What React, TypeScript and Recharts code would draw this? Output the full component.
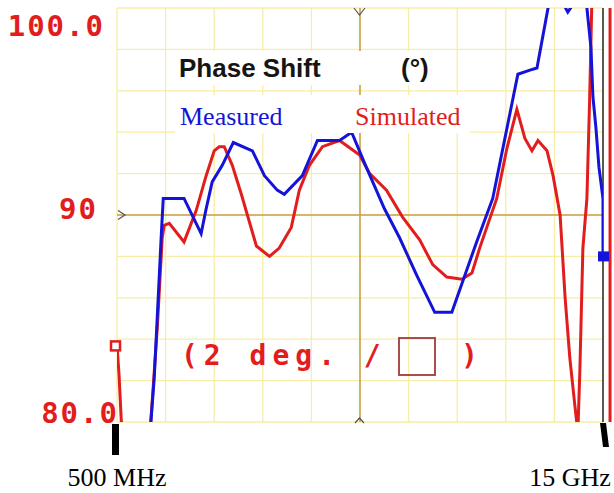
import React from "react";
import { LineChart, Line, XAxis, YAxis, CartesianGrid, ReferenceLine, ReferenceDot } from "recharts";

// frequency in GHz, phase in degrees
const measuredFreq = [
  1.45, 1.52, 1.61, 1.76, 1.82, 1.88, 2.5, 3.01, 3.16, 3.34, 3.64, 3.97, 4.54, 4.9, 5.28, 5.49, 6.03, 6.48, 7.14,
  7.5, 7.94, 8.48, 8.93, 9.44, 9.98, 10.49, 11.23, 11.71, 12.46, 12.82, 13.03, 13.36, 13.5, 13.75, 13.95, 14.2,
  14.35, 14.52, 14.64, 14.7, 14.79, 14.88, 15.0, 15.0,
];
const measuredPhase = [
  78.5, 80.2, 82.1, 87.0, 89.0, 90.8, 90.8, 89.1, 90.3, 91.6, 92.4, 93.5, 93.1, 91.9, 91.2, 91.0, 91.9, 93.6, 93.6,
  94.0, 92.3, 90.3, 88.9, 87.1, 85.3, 85.3, 88.7, 90.8, 96.8, 97.0, 97.1, 100.0, 101.5, 100.4, 99.8, 100.4,
  101.5, 100.0, 98.1, 95.7, 94.2, 92.3, 90.8, 88.0,
];

const simulatedFreq = [
  0.5, 0.56, 0.63, 0.72, 1.1, 1.48, 1.55, 1.7, 1.85, 1.91, 2.06, 2.5, 2.86, 3.16, 3.4, 3.55, 3.7, 3.94, 4.21, 4.39,
  4.66, 5.05, 5.34, 5.7, 5.94, 6.24, 6.63, 7.14, 7.74, 8.04, 8.54, 9.02, 9.53, 9.92, 10.34, 10.79, 11.09, 11.32,
  11.83, 12.13, 12.43, 12.67, 12.88, 13.06, 13.33, 13.51, 13.72, 13.87, 14.01, 14.16, 14.25, 14.31, 14.4, 14.52,
  14.6, 14.67, 14.75,
];
const simulatedPhase = [
  83.7, 82.3, 80.0, 78.8, 78.5, 79.4, 81.0, 84.5, 88.9, 89.5, 89.6, 88.7, 90.2, 91.9, 93.1, 93.3, 93.3, 92.4, 91.0,
  90.0, 88.5, 88.0, 88.4, 89.4, 91.2, 92.4, 93.3, 93.6, 92.9, 92.0, 91.2, 89.9, 88.8, 87.6, 87.0, 86.9, 87.2, 88.4,
  90.8, 93.2, 95.1, 93.7, 93.1, 93.6, 93.1, 91.9, 90.0, 86.0, 83.1, 80.8, 79.5, 82.5, 88.4, 90.8, 95.5, 100.5,
  102.0,
];

const freqGrid = [0.5, 1.95, 3.4, 4.85, 6.3, 7.75, 9.2, 10.65, 12.1, 13.55, 15];
const phaseGrid = [80, 82, 84, 86, 88, 90, 92, 94, 96, 98, 100];
const phaseLabels: Record<number, string> = { 100: "100.0", 90: "90", 80: "80.0" };
const freqLabels: Record<number, string> = { 0.5: "500 MHz", 15: "15 GHz" };
const centerFreq = 7.75;
const refPhase = 90;
const edgeMarkerFreq = 15.21;

const measured = measuredFreq.map((f, i) => ({ f, v: measuredPhase[i] }));
const simulated = simulatedFreq.map((f, i) => ({ f, v: simulatedPhase[i] }));
const simStart = simulated[0];
const measEnd = measured[measured.length - 1];

const RED = "#e21d1d";
const BLUE = "#1414d8";
const GRID = "#f8eda6";
const GOLD = "#c9a24c";
const MONO = "'DejaVu Sans Mono', monospace";
const SERIF = "'Liberation Serif', 'Times New Roman', serif";

const labelPos: Record<number, { x: number; dy: number }> = {
  100: { x: 105, dy: 18 },
  90: { x: 98, dy: -6 },
  80: { x: 119, dy: -9 },
};

const PhaseTick = (props: any) => {
  const { y, payload } = props;
  const txt = phaseLabels[payload.value];
  if (!txt) return <g />;
  const p = labelPos[payload.value];
  return (
    <g>
      <text x={p.x} y={y + p.dy} textAnchor="end" dominantBaseline="central" fontFamily={MONO} fontWeight="bold"
        fontSize={29} letterSpacing={2} fill={RED}>
        {txt}
      </text>
      {payload.value === refPhase && (
        <path d={`M118,${y - 4.5} L125,${y} L118,${y + 4.5}`} fill="none" stroke="#555" strokeWidth={1.2} />
      )}
    </g>
  );
};

const FreqTick = (props: any) => {
  const { x, payload } = props;
  const txt = freqLabels[payload.value];
  if (!txt) return <g />;
  const isEnd = payload.value === 15;
  return (
    <g>
      {isEnd ? (
        <polygon points={`${x - 3},423 ${x + 3},423 ${x + 6},447 ${x},447`} fill="#000" />
      ) : (
        <rect x={x - 5} y={424} width={7} height={31} fill="#000" />
      )}
      <text x={isEnd ? x - 33 : x} y={486} textAnchor="middle" fontFamily={SERIF} fontSize={26} fill="#000">
        {txt}
      </text>
    </g>
  );
};

export default function App() {
  return (
    <div style={{ position: "absolute", left: 0, top: 0, width: 614, height: 493, background: "#fff" }}>
      <LineChart width={614} height={493} data={measured} margin={{ top: 8, right: 11, bottom: 0, left: 0 }}>
        <CartesianGrid stroke={GRID} strokeWidth={1.3} />
        <XAxis dataKey="f" type="number" domain={[0.5, 15]} ticks={freqGrid} interval={0} height={71}
          allowDataOverflow axisLine={false} tickLine={false} tick={<FreqTick />} />
        <YAxis type="number" domain={[80, 100]} ticks={phaseGrid} interval={0} width={117} allowDataOverflow
          axisLine={false} tickLine={false} tick={<PhaseTick />} />
        <ReferenceLine x={centerFreq} stroke={GOLD} strokeWidth={1.6} />
        <ReferenceLine y={refPhase} stroke={GOLD} strokeWidth={1.6} />
        <ReferenceLine x={15} stroke="#333" strokeWidth={1.6} />
        <ReferenceLine x={edgeMarkerFreq} stroke={RED} strokeWidth={3} ifOverflow="visible" />
        <Line data={simulated} dataKey="v" type="linear" stroke={RED} strokeWidth={3} dot={false}
          activeDot={false} isAnimationActive={false} />
        <Line data={measured} dataKey="v" type="linear" stroke={BLUE} strokeWidth={3} dot={false}
          activeDot={false} isAnimationActive={false} />
        <ReferenceDot x={simStart.f} y={simStart.v} ifOverflow="visible"
          shape={(p: any) => (
            <rect x={p.cx - 6} y={p.cy - 4} width={9} height={9} fill="#fff" stroke={RED} strokeWidth={2.5} />
          )} />
        <ReferenceDot x={measEnd.f} y={measEnd.v} ifOverflow="visible"
          shape={(p: any) => <rect x={p.cx - 5} y={p.cy - 5} width={11} height={10} fill={BLUE} />} />
      </LineChart>
      <svg width={614} height={493} style={{ position: "absolute", left: 0, top: 0, pointerEvents: "none" }}>
        <rect x={175} y={51} width={265} height={34} fill="#fff" />
        <rect x={175} y={95} width={295} height={38} fill="#fff" />
        <text x={179} y={77} fontFamily="'Liberation Sans', Arial, sans-serif" fontWeight="bold" fontSize={26}
          fill="#151515">
          Phase Shift
        </text>
        <text x={401} y={77} fontFamily="'Liberation Sans', Arial, sans-serif" fontWeight="bold" fontSize={26}
          fill="#151515">
          (°)
        </text>
        <text x={180} y={125} fontFamily={SERIF} fontSize={26} fill={BLUE}>
          Measured
        </text>
        <text x={355} y={125} fontFamily={SERIF} fontSize={26} fill={RED}>
          Simulated
        </text>
        <path d="M354,8 L359.5,15 L365,8" fill="none" stroke="#555" strokeWidth={1.2} />
        <path d="M355,423 L359.5,418 L364,423" fill="none" stroke="#555" strokeWidth={1.2} />
        <text x={181} y={365} fontFamily={MONO} fontWeight="bold" fontSize={28} letterSpacing={6} fill={RED}>
          (2 deg. /
        </text>
        <rect x={399} y={338} width={36} height={37} fill="none" stroke="#a33a3a" strokeWidth={1.8} />
        <text x={461} y={365} fontFamily={MONO} fontWeight="bold" fontSize={28} fill={RED}>
          )
        </text>
      </svg>
    </div>
  );
}
